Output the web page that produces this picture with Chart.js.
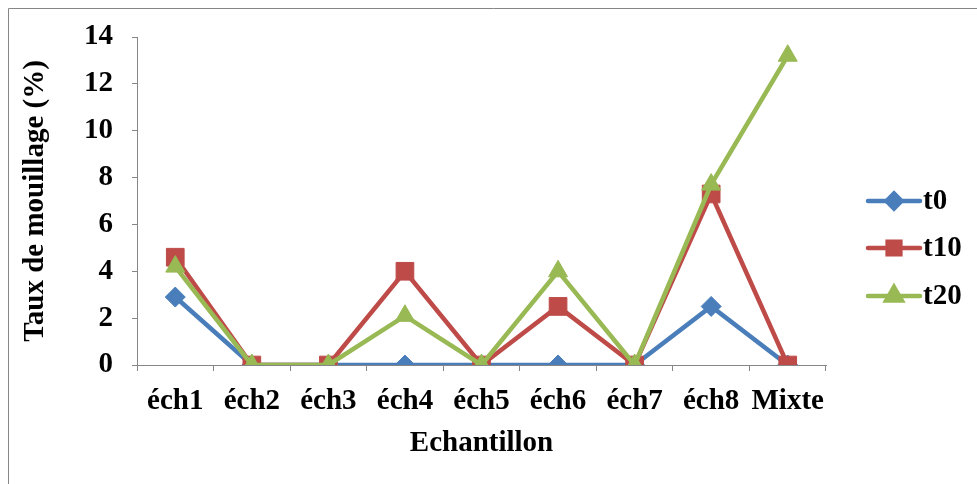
<!DOCTYPE html>
<html>
<head>
<meta charset="utf-8">
<script src="https://cdn.jsdelivr.net/npm/chart.js@4/dist/chart.umd.min.js"></script>
<style>
  html, body { margin: 0; padding: 0; background: #fff; }
  #wrap { width: 977px; height: 484px; position: relative; }
</style>
</head>
<body>
<div id="wrap"><canvas id="mouillageChart"></canvas></div>
<script>
// === Données ===
const echantillons = ["éch1", "éch2", "éch3", "éch4", "éch5", "éch6", "éch7", "éch8", "Mixte"];
const t0 = [2.9, 0, 0, 0, 0, 0, 0, 2.5, 0];
const t10 = [4.6, 0, 0, 4.0, 0, 2.5, 0, 7.3, 0];
const t20 = [4.2, 0, 0, 2.1, 0, 4.0, 0, 7.7, 13.2];

const bleu = "#4A7EBB";
const rouge = "#BE4B48";
const vert = "#98B954";
const gris = "#868686";
const police = "'Liberation Serif', 'Times New Roman', serif";
const taille = 29;

// cadre + légende dessinés à la main (ligne + marqueur comme Excel)
const cadreLegende = {
  id: "cadreLegende",
  afterDraw(chart) {
    const ctx = chart.ctx;
    ctx.save();
    ctx.strokeStyle = gris;
    ctx.lineWidth = 1;
    ctx.beginPath();
    ctx.moveTo(8.5, 490);
    ctx.lineTo(8.5, 8.5);
    ctx.lineTo(980, 8.5);
    ctx.stroke();

    const rows = [201, 248, 296];
    const sizes = [7.5, 9, 9];
    chart.data.datasets.forEach((ds, i) => {
      const y = rows[i];
      ctx.strokeStyle = ds.borderColor;
      ctx.lineWidth = 4.5;
      ctx.lineCap = "round";
      ctx.beginPath();
      ctx.moveTo(868, y);
      ctx.lineTo(920, y);
      ctx.stroke();
      Chart.helpers.drawPoint(ctx, {
        pointStyle: ds.pointStyle, radius: sizes[i], borderWidth: 1
      }, 894, y);
      ctx.fillStyle = ds.backgroundColor;
      ctx.strokeStyle = ds.borderColor;
      ctx.fill();
      ctx.fillStyle = "#000";
      ctx.font = "bold " + taille + "px " + police;
      ctx.textBaseline = "middle";
      ctx.fillText(ds.label, 923, y + 1);
    });
    ctx.restore();
  }
};

new Chart(document.getElementById("mouillageChart"), {
  type: "line",
  data: {
    labels: echantillons,
    datasets: [
      // t20 dessiné au-dessus, comme dans Excel
      { label: "t0", data: t0, borderColor: bleu, backgroundColor: bleu, pointStyle: "rectRot", pointRadius: 10, order: 2 },
      { label: "t10", data: t10, borderColor: rouge, backgroundColor: rouge, pointStyle: "rect", pointRadius: 12.5, order: 1 },
      { label: "t20", data: t20, borderColor: vert, backgroundColor: vert, pointStyle: "triangle", pointRadius: 11, order: 0 }
    ].map(ds => Object.assign(ds, { borderWidth: 4.5, tension: 0, fill: false, pointBorderWidth: 1 }))
  },
  options: {
    responsive: true,
    maintainAspectRatio: false,
    animation: false,
    layout: { padding: { top: 37, right: 151, left: 0, bottom: 0 } },
    plugins: {
      legend: { display: false },
      tooltip: { enabled: false }
    },
    scales: {
      x: {
        offset: true,
        grid: { offset: true, drawOnChartArea: false, drawTicks: true, tickLength: 6, color: gris },
        border: { color: gris, width: 1 },
        ticks: { color: "#000", font: { family: police, size: taille, weight: "bold" }, padding: 13, maxRotation: 0 },
        title: { display: true, text: "Echantillon", color: "#000", font: { family: police, size: taille, weight: "bold" }, padding: { top: 0, bottom: 23 } },
        afterFit(scale) { scale.height = 119; }
      },
      y: {
        min: 0,
        max: 14,
        ticks: { stepSize: 2, color: "#000", font: { family: police, size: taille, weight: "bold" }, padding: 19 },
        grid: { drawOnChartArea: false, drawTicks: true, tickLength: 5, color: gris },
        border: { color: gris, width: 1 },
        title: { display: true, text: "Taux de mouillage (%)", color: "#000", font: { family: police, size: taille, weight: "bold" }, padding: { top: 18, bottom: 0 } },
        afterFit(scale) { scale.width = 137; }
      }
    }
  },
  plugins: [cadreLegende]
});
</script>
</body>
</html>
